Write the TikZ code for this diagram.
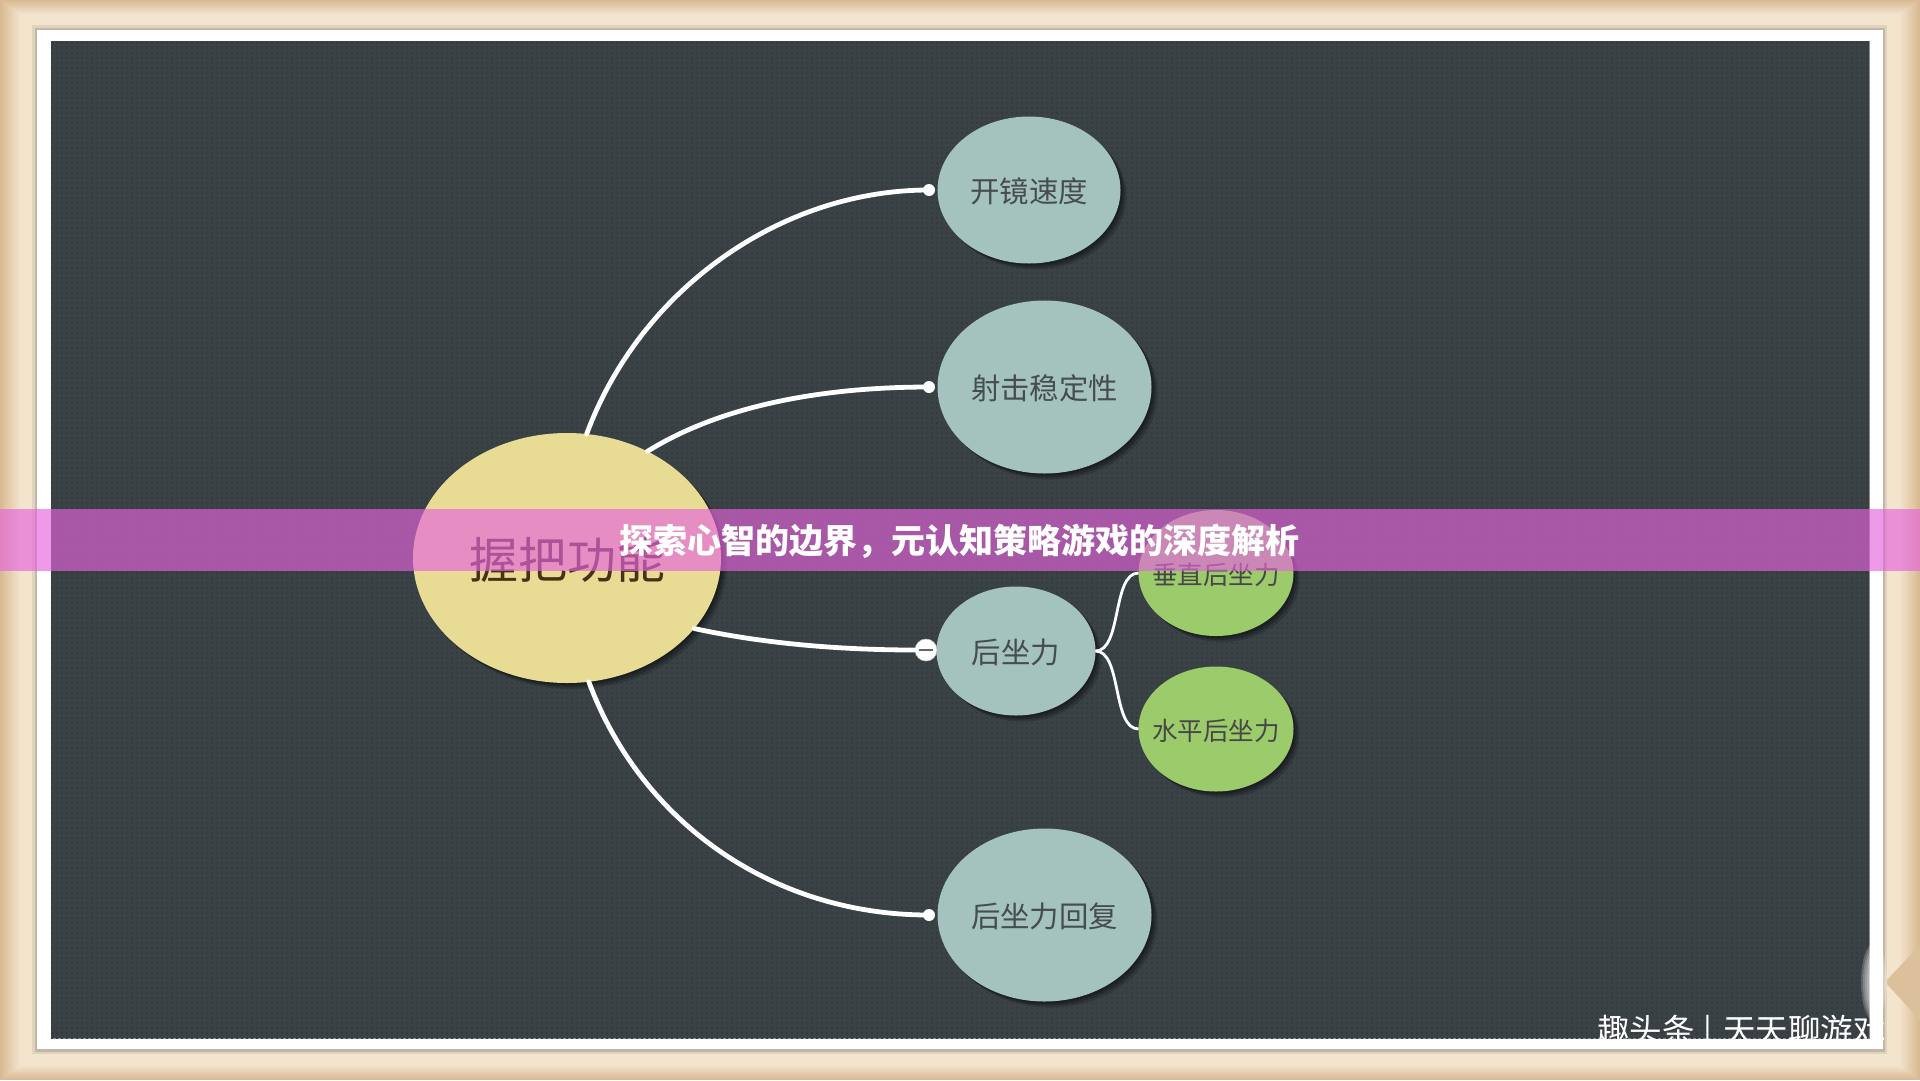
\documentclass[tikz,border=0pt]{standalone}
\usepackage{fontspec}
\newfontfamily\cjk{Noto Sans CJK SC}
\usetikzlibrary{shapes.geometric,shadows}
\definecolor{woodout}{HTML}{D8B992}
\definecolor{woodin}{HTML}{F3E4CD}
\definecolor{slate}{HTML}{3A4246}
\definecolor{slatedot}{HTML}{343B3F}
\definecolor{teal}{HTML}{A4C3BE}
\definecolor{leaf}{HTML}{9BCB6B}
\definecolor{sand}{HTML}{E8DC94}
\definecolor{inktext}{HTML}{474D4D}
\definecolor{bandcol}{RGB}{229,100,221}
\newcommand{\lbl}[1]{\makebox[0pt]{\smash{\raisebox{\dimexpr-.38em-1.5pt\relax}{#1}}}}
\tikzset{
  softshadow/.style={
    drop shadow={shadow xshift=6pt,shadow yshift=-6pt,fill=black,opacity=.16},
    drop shadow={shadow xshift=4pt,shadow yshift=-4pt,fill=black,opacity=.22},
    drop shadow={shadow xshift=2pt,shadow yshift=-2pt,fill=black,opacity=.22}},
  bubble/.style={ellipse,inner sep=0pt,outer sep=0pt,text=inktext,softshadow},
  topic/.style={bubble,fill=teal,font=\cjk\fontsize{29.4}{32}\selectfont},
  subtopic/.style={bubble,fill=leaf,text=black!72,font=\cjk\fontsize{25.5}{28}\selectfont},
  root/.style={bubble,fill=sand,text=black!62!brown,font=\cjk\fontsize{49}{54}\selectfont},
  mainlink/.style={draw=white,line width=4.8pt,line cap=round},
  sublink/.style={draw=white,line width=2.8pt},
  endknob/.style={circle,fill=white,inner sep=0pt,outer sep=0pt,minimum size=12pt}
}
\begin{document}
\begin{tikzpicture}[x=1pt,y=-1pt]
\useasboundingbox (0,0) rectangle (1920,1080);
% wooden mount
\foreach \i in {0,...,20}{
  \pgfmathsetmacro{\p}{100-\i*5}
  \fill[woodout!\p!woodin] (\i,\i*.7) rectangle (1920-\i,1080-\i*.7);
}
\fill[woodout!85!woodin] (1885,982) -- (1920,945) -- (1920,1020) -- cycle;
% white frame with a soft edge
\fill[black!8!woodin] (32,25) rectangle (1887,1054);
\fill[black!20!woodin] (35,28) rectangle (1885,1052);
\fill[white] (37,30) rectangle (1883,1049);
\fill[black!45] (50.5,40.5) rectangle (1869.5,1038.5);
\fill[slate] (51,41) rectangle (1869,1038);
% dotted screen texture
\begin{scope}
\clip (51,41) rectangle (1869,1038);
\foreach \r in {43,48,...,1038}{
  \draw[slatedot,line width=1.6pt,dash pattern=on 1.6pt off 3.4pt] (51,\r) -- (1869,\r);
}
\end{scope}
% pale glare near the corner
\foreach \i in {1,...,6}{
  \fill[white,opacity=.2] (1874,982) ellipse ({15-2*\i} and {42-3*\i});
}
% nodes
\node[root,minimum width=308pt,minimum height=250pt] (grip) at (567,558) {\lbl{握把功能}};
\node[topic,minimum width=183pt,minimum height=147pt] (scope) at (1029,190) {\lbl{开镜速度}};
\node[topic,minimum width=214pt,minimum height=173pt] (stable) at (1044.5,387) {\lbl{射击稳定性}};
\node[topic,minimum width=159pt,minimum height=129pt] (recoil) at (1016,651) {\lbl{后坐力}};
\node[topic,minimum width=214pt,minimum height=173pt] (recover) at (1044.5,915) {\lbl{后坐力回复}};
\node[subtopic,minimum width=155pt,minimum height=126pt] (vert) at (1216,573) {\lbl{垂直后坐力}};
\node[subtopic,minimum width=155pt,minimum height=125pt] (horiz) at (1216,729) {\lbl{水平后坐力}};
% connector ends
\node[endknob] (k1) at (929,190) {};
\node[endknob] (k2) at (929,387) {};
\node[endknob] (k3) at (929,915) {};
\node[circle,fill=white,draw=black!25,line width=.6pt,inner sep=0pt,minimum size=22pt] (k4) at (926,650) {};
% connectors
\draw[mainlink] (grip.81) .. controls (640,290) and (780,190) .. (k1.center);
\draw[mainlink] (grip.53) .. controls (730,400) and (840,387) .. (k2.center);
\draw[mainlink] (grip.-29) .. controls (770,645) and (850,650) .. (k4.west);
\draw[mainlink] (grip.-80) .. controls (640,820) and (770,915) .. (k3.center);
\draw[sublink] (recoil.east) .. controls (1122,651) and (1112,573) .. (vert.west);
\draw[sublink] (recoil.east) .. controls (1122,651) and (1112,729) .. (horiz.west);
\draw[black!60,line width=1.2pt] (k4.west) ++(4,0) -- ++(14,0);
% watermark
\begin{scope}
\clip (1500,1000) rectangle (1886,1039);
\node[text=white,font=\cjk\fontsize{32.5}{34}\selectfont,anchor=west,inner sep=0pt] (mark) at (1597,1033) {趣头条\hspace{9pt}|\hspace{11pt}天天聊游戏};
\end{scope}
% title band
\fill[bandcol,opacity=.65] (0,509) rectangle (1920,571);
\node[text=white,font=\cjk\bfseries\fontsize{34}{36}\selectfont,inner sep=0pt] (title) at (959.5,541.5) {探索心智的边界，元认知策略游戏的深度解析};
\end{tikzpicture}
\end{document}
